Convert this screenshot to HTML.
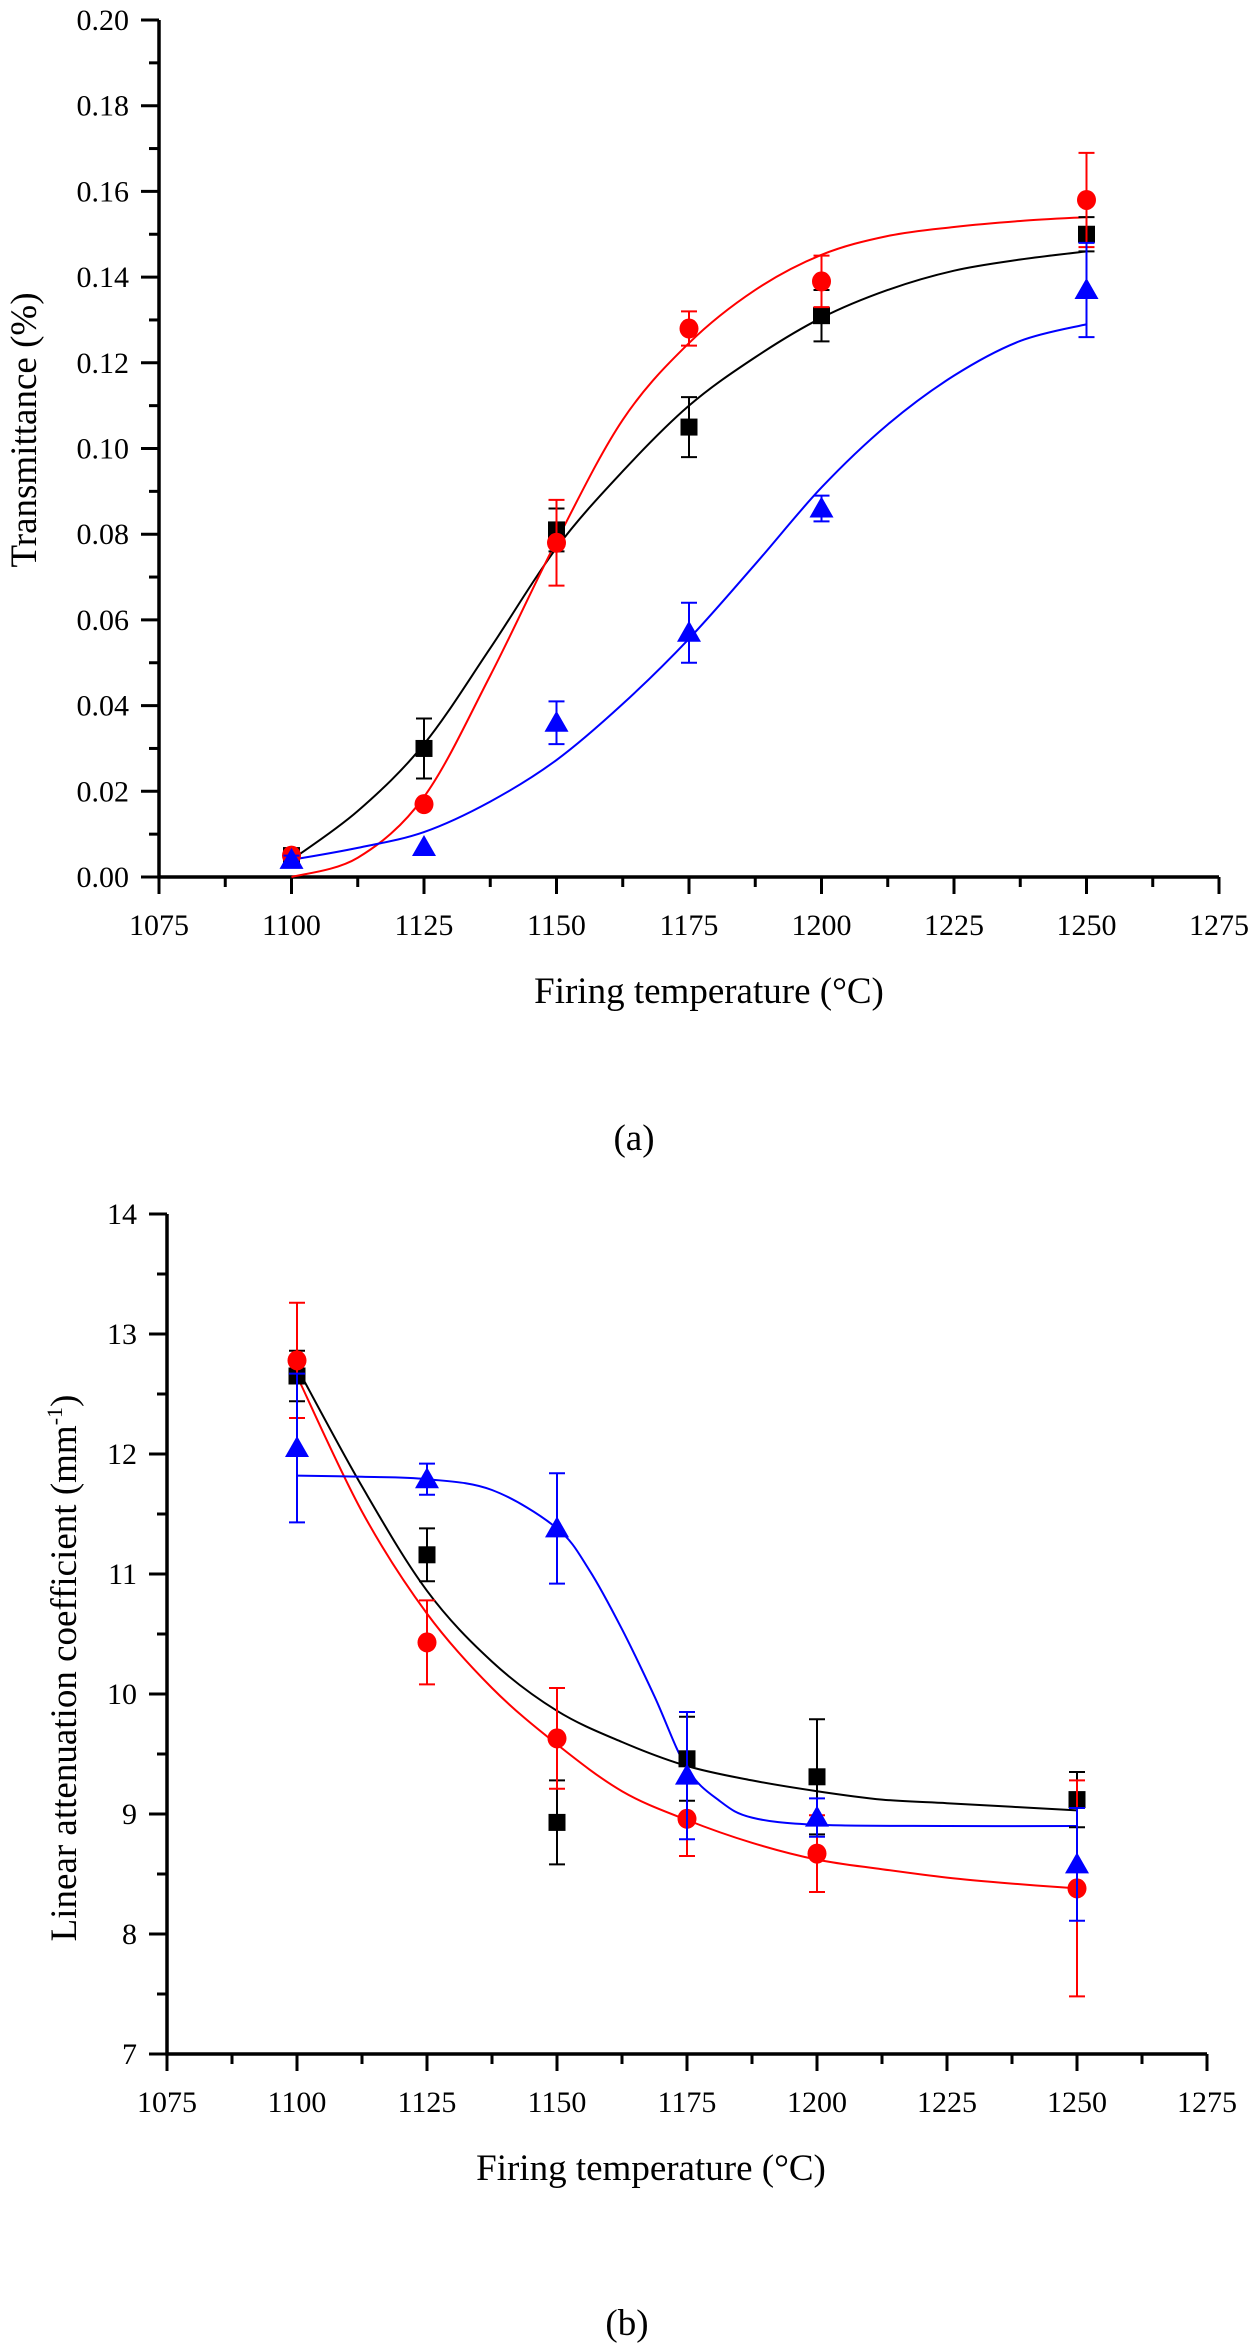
<!DOCTYPE html>
<html><head><meta charset="utf-8"><style>
html,body{margin:0;padding:0;background:#fff;}
svg{display:block;font-family:"Liberation Serif","DejaVu Serif",serif;}
</style></head><body>
<svg id="fig" width="1258" height="2348" viewBox="0 0 1258 2348" xmlns="http://www.w3.org/2000/svg"></svg>
<script>
// ---- Chart (a) data ----
const xCatsA = [1100, 1125, 1150, 1175, 1200, 1250];
const blackA = [0.005, 0.030, 0.081, 0.105, 0.131, 0.150];
const blackErrA = [0.001, 0.007, 0.005, 0.007, 0.006, 0.004];
const redA = [0.005, 0.017, 0.078, 0.128, 0.139, 0.158];
const redErrA = [0.001, 0.0, 0.010, 0.004, 0.006, 0.011];
const blueA = [0.004, 0.007, 0.036, 0.057, 0.086, 0.137];
const blueErrA = [0.001, 0.0, 0.005, 0.007, 0.003, 0.011];
const fitXA = [1100, 1112.5, 1125, 1137.5, 1150, 1162.5, 1175, 1187.5, 1200, 1212.5, 1225, 1237.5, 1250];
const fitBlackA = [0.004, 0.0154, 0.031, 0.0534, 0.0768, 0.0947, 0.110, 0.1213, 0.1305, 0.137, 0.1415, 0.1441, 0.146];
const fitRedA = [0.0, 0.0045, 0.0187, 0.047, 0.0784, 0.1067, 0.1246, 0.137, 0.1452, 0.1496, 0.1517, 0.1531, 0.154];
const fitBlueA = [0.004, 0.0068, 0.0105, 0.0176, 0.0273, 0.0404, 0.0556, 0.073, 0.0909, 0.1056, 0.117, 0.1251, 0.129];
const yTicksA = ["0.00","0.02","0.04","0.06","0.08","0.10","0.12","0.14","0.16","0.18","0.20"];
const xTicks = ["1075","1100","1125","1150","1175","1200","1225","1250","1275"];

// ---- Chart (b) data ----
const xCatsB = [1100, 1125, 1150, 1175, 1200, 1250];
const blackB = [12.65, 11.16, 8.93, 9.46, 9.31, 9.12];
const blackErrB = [0.21, 0.22, 0.35, 0.35, 0.48, 0.23];
const redB = [12.78, 10.43, 9.63, 8.96, 8.67, 8.38];
const redErrB = [0.48, 0.35, 0.42, 0.31, 0.32, 0.9];
const blueB = [12.05, 11.79, 11.38, 9.32, 8.97, 8.58];
const blueErrB = [0.62, 0.13, 0.46, 0.53, 0.16, 0.47];
const fitXB = [1100, 1112.5, 1125, 1137.5, 1150, 1162.5, 1175, 1187.5, 1200, 1212.5, 1225, 1237.5, 1250];
const fitBlackB = [12.72, 11.73, 10.86, 10.27, 9.86, 9.60, 9.40, 9.28, 9.19, 9.12, 9.09, 9.06, 9.03];
const fitRedB = [12.65, 11.52, 10.67, 10.05, 9.58, 9.19, 8.95, 8.76, 8.62, 8.54, 8.47, 8.42, 8.38];
const fitXBlueB = [1100, 1112.5, 1125, 1137.5, 1150, 1156.25, 1162.5, 1168.75, 1175, 1181.25, 1187.5, 1200, 1225, 1250];
const fitBlueB = [11.82, 11.81, 11.79, 11.70, 11.38, 11.03, 10.54, 9.98, 9.38, 9.11, 8.97, 8.91, 8.90, 8.90];
const yTicksB = ["7","8","9","10","11","12","13","14"];

const NS = "http://www.w3.org/2000/svg";
const svg = document.getElementById("fig");
function mk(tag, attrs, parent) {
  const e = document.createElementNS(NS, tag);
  for (const k in attrs) e.setAttribute(k, attrs[k]);
  (parent || svg).appendChild(e);
  return e;
}

function curvePath(pts) {
  let d = "M" + pts[0][0] + "," + pts[0][1];
  for (let i = 0; i < pts.length - 1; i++) {
    const p0 = pts[Math.max(0, i - 1)], p1 = pts[i], p2 = pts[i + 1], p3 = pts[Math.min(pts.length - 1, i + 2)];
    const c1x = p1[0] + (p2[0] - p0[0]) / 6, c1y = p1[1] + (p2[1] - p0[1]) / 6;
    const c2x = p2[0] - (p3[0] - p1[0]) / 6, c2y = p2[1] - (p3[1] - p1[1]) / 6;
    d += " C" + c1x + "," + c1y + " " + c2x + "," + c2y + " " + p2[0] + "," + p2[1];
  }
  return d;
}

function chart(cfg) {
  const g = mk("g", {});
  
  
  const X = v => cfg.x0 + (v - 1075) / 200 * (cfg.x1 - cfg.x0);
  const Y = v => cfg.y0 - (v - cfg.ymin) / (cfg.ymax - cfg.ymin) * (cfg.y0 - cfg.y1);
  const ax = mk("path", {d: "M" + cfg.x0 + "," + cfg.y1 + " L" + cfg.x0 + "," + cfg.y0 + " L" + cfg.x1 + "," + cfg.y0, fill: "none", stroke: "#000", "stroke-width": 3.5}, g);
  
  
  for (let i = 0; i <= 16; i++) {
    const v = 1075 + i * 12.5, px = X(v);
    const major = i % 2 === 0;
    mk("line", {x1: px, y1: cfg.y0, x2: px, y2: cfg.y0 + (major ? 17 : 10), stroke: "#000", "stroke-width": 3}, g);
    if (major) {
      const t = mk("text", {x: px, y: cfg.y0 + 58, "font-size": 30, "text-anchor": "middle"}, g);
      t.textContent = xTicks[i / 2];
      
      
    }
  }
  const n = cfg.yTicks.length - 1;
  for (let i = 0; i <= 2 * n; i++) {
    const v = cfg.ymin + i * (cfg.ymax - cfg.ymin) / (2 * n), py = Y(v);
    const major = i % 2 === 0;
    mk("line", {x1: cfg.x0 - (major ? 18 : 10), y1: py, x2: cfg.x0, y2: py, stroke: "#000", "stroke-width": 3}, g);
    if (major) {
      const t = mk("text", {x: cfg.x0 - 30, y: py + 10, "font-size": 30, "text-anchor": "end"}, g);
      t.textContent = cfg.yTicks[i / 2];
      
      
    }
  }
  cfg.fits.forEach(f => {
    const pts = f.ys.map((v, i) => [X(f.xs[i]), Y(v)]);
    const p = mk("path", {d: curvePath(pts), fill: "none", stroke: f.color, "stroke-width": 2}, g);
    
    
  });
  cfg.series.forEach(s => {
    s.ys.forEach((v, i) => {
      const px = X(cfg.xs[i]), py = Y(v), e = s.err[i];
      if (e > 0) {
        const eb = mk("path", {d: "M" + px + "," + Y(v - e) + " L" + px + "," + Y(v + e) + " M" + (px - 8) + "," + Y(v - e) + " L" + (px + 8) + "," + Y(v - e) + " M" + (px - 8) + "," + Y(v + e) + " L" + (px + 8) + "," + Y(v + e), stroke: s.color, "stroke-width": 2, fill: "none"}, g);
        
        
      }
      let m;
      if (s.shape === "square") m = mk("rect", {x: px - 8.5, y: py - 8.5, width: 17, height: 17, fill: s.color}, g);
      else if (s.shape === "circle") m = mk("ellipse", {cx: px, cy: py, rx: 9.5, ry: 10, fill: s.color}, g);
      else m = mk("polygon", {points: (px) + "," + (py - 12) + " " + (px + 12) + "," + (py + 9) + " " + (px - 12) + "," + (py + 9), fill: s.color}, g);
      
      
    });
  });
  const xt = mk("text", {x: cfg.xTitleX, y: cfg.y0 + 126, "font-size": 37, "text-anchor": "middle"}, g);
  xt.textContent = "Firing temperature (°C)";
  
  
  const yt = mk("text", {x: 0, y: 0, "font-size": 37, "text-anchor": "middle", transform: "translate(" + cfg.yTitleX + "," + cfg.yTitleY + ") rotate(-90)"}, g);
  yt.innerHTML = cfg.yTitle;
  
  
  const pl = mk("text", {x: cfg.panelX, y: cfg.panelY, "font-size": 37, "text-anchor": "middle"}, g);
  pl.textContent = cfg.panel;
  
  
}

chart({name: "chart-a", x0: 159, x1: 1219, y0: 877, y1: 20, ymin: 0, ymax: 0.20, yTicks: yTicksA, xs: xCatsA,
  xTitleX: 709, yTitleX: 36, yTitleY: 430, yTitle: "Transmittance (%)", panel: "(a)", panelX: 634, panelY: 1150,
  fits: [
    {name: "fit-black", xs: fitXA, ys: fitBlackA, color: "#000"},
    {name: "fit-red", xs: fitXA, ys: fitRedA, color: "#ff0000"},
    {name: "fit-blue", xs: fitXA, ys: fitBlueA, color: "#0000ff"}],
  series: [
    {name: "black-series", ys: blackA, err: blackErrA, color: "#000", shape: "square"},
    {name: "red-series", ys: redA, err: redErrA, color: "#ff0000", shape: "circle"},
    {name: "blue-series", ys: blueA, err: blueErrA, color: "#0000ff", shape: "triangle"}]});

chart({name: "chart-b", x0: 167, x1: 1207, y0: 2054, y1: 1214, ymin: 7, ymax: 14, yTicks: yTicksB, xs: xCatsB,
  xTitleX: 651, yTitleX: 76, yTitleY: 1668, yTitle: 'Linear attenuation coefficient (mm<tspan dy="-14" font-size="22">-1</tspan><tspan dy="14">)</tspan>', panel: "(b)", panelX: 627, panelY: 2335,
  fits: [
    {name: "fit-black", xs: fitXB, ys: fitBlackB, color: "#000"},
    {name: "fit-red", xs: fitXB, ys: fitRedB, color: "#ff0000"},
    {name: "fit-blue", xs: fitXBlueB, ys: fitBlueB, color: "#0000ff"}],
  series: [
    {name: "black-series", ys: blackB, err: blackErrB, color: "#000", shape: "square"},
    {name: "red-series", ys: redB, err: redErrB, color: "#ff0000", shape: "circle"},
    {name: "blue-series", ys: blueB, err: blueErrB, color: "#0000ff", shape: "triangle"}]});
</script>
</body></html>
